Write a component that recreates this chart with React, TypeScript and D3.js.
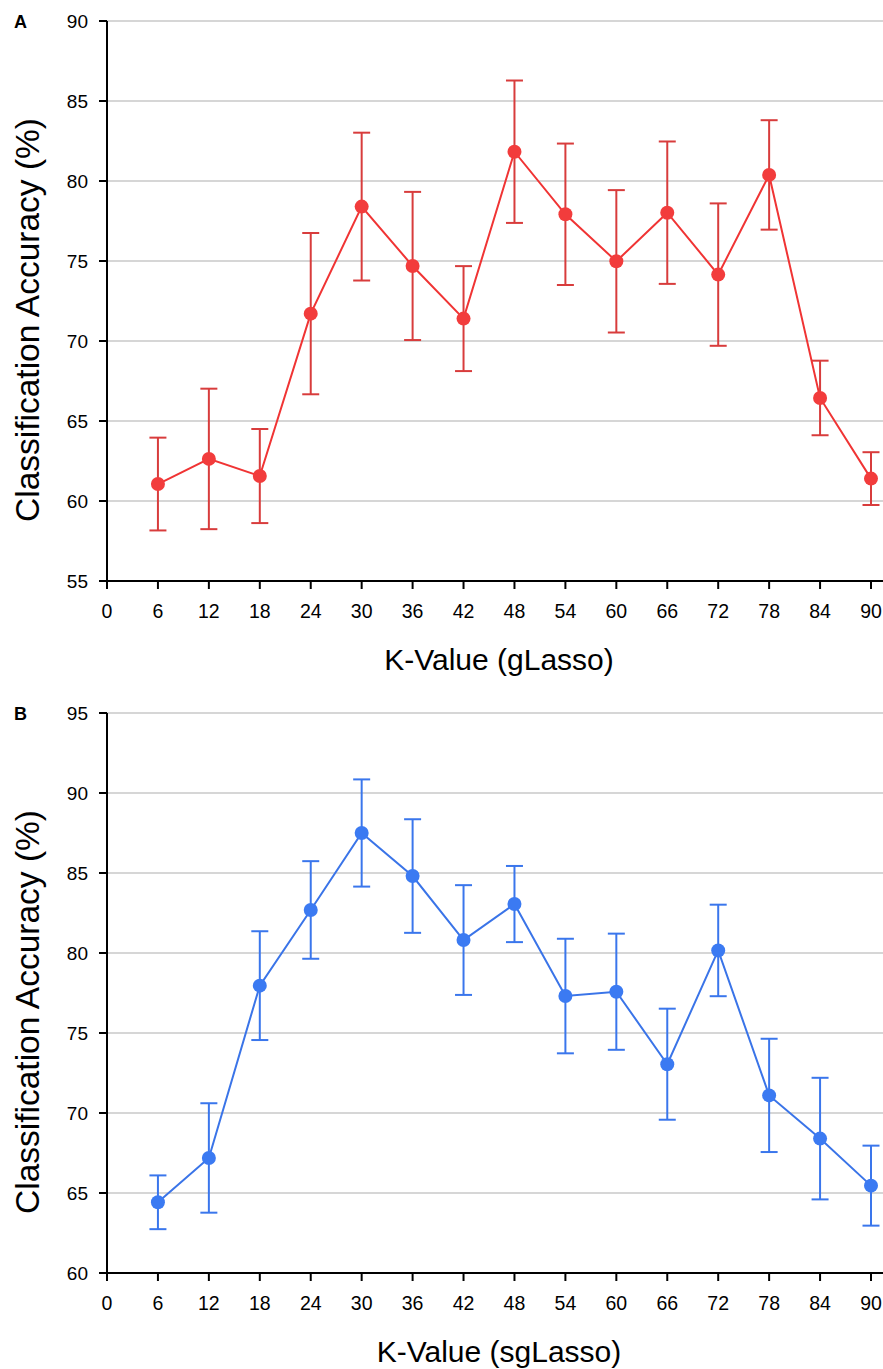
import React from "react";
import * as d3 from "d3";

// K values shared by both panels
const kValues = [6, 12, 18, 24, 30, 36, 42, 48, 54, 60, 66, 72, 78, 84, 90];
const xTicks = [0, 6, 12, 18, 24, 30, 36, 42, 48, 54, 60, 66, 72, 78, 84, 90];

// Panel A: gLasso
const gLassoMean = [61.06, 62.63, 61.56, 71.71, 78.4, 74.69, 71.4, 81.83, 77.92, 74.98, 78.02, 74.15, 80.38, 66.44, 61.4];
const gLassoErr = [2.9, 4.39, 2.94, 5.04, 4.62, 4.63, 3.28, 4.45, 4.42, 4.45, 4.45, 4.45, 3.42, 2.33, 1.65];
const gLassoYTicks = [55, 60, 65, 70, 75, 80, 85, 90];

// Panel B: sgLasso
const sgLassoMean = [64.42, 67.19, 77.96, 82.69, 87.5, 84.81, 80.81, 83.06, 77.31, 77.58, 73.05, 80.16, 71.1, 68.4, 65.46];
const sgLassoErr = [1.68, 3.42, 3.4, 3.05, 3.35, 3.55, 3.43, 2.38, 3.58, 3.63, 3.47, 2.86, 3.54, 3.8, 2.5];
const sgLassoYTicks = [60, 65, 70, 75, 80, 85, 90, 95];

const FONT = "Liberation Sans, Arial, Helvetica, sans-serif";

type PanelProps = {
  letter: string;
  xTitle: string;
  mean: number[];
  err: number[];
  yTicks: number[];
  top: number;
  bottom: number;
  lineColor: string;
  dotColor: string;
  errColor: string;
};

function Panel({ letter, xTitle, mean, err, yTicks, top, bottom, lineColor, dotColor, errColor }: PanelProps) {
  const left = 107;
  const right = 871;
  const gridRight = 883;
  const x = d3.scaleLinear().domain([0, 90]).range([left, right]);
  const y = d3.scaleLinear().domain([yTicks[0], yTicks[yTicks.length - 1]]).range([bottom, top]);
  const line = d3
    .line<number>()
    .x((_, i) => x(kValues[i]))
    .y((d) => y(d));
  const cap = 8.5;

  return (
    <g>
      <text x={14} y={top + 6.5} fontFamily={FONT} fontWeight="bold" fontSize={18} fill="#000">
        {letter}
      </text>
      {/* horizontal gridlines */}
      {yTicks.slice(1).map((t) => (
        <line key={"g" + t} x1={left} x2={gridRight} y1={y(t)} y2={y(t)} stroke="#c8c8c8" strokeWidth={1.5} />
      ))}
      {/* y axis */}
      <line x1={left} x2={left} y1={top} y2={bottom} stroke="#000" strokeWidth={2} />
      {yTicks.map((t) => (
        <g key={"y" + t}>
          <line x1={left - 8} x2={left} y1={y(t)} y2={y(t)} stroke="#000" strokeWidth={2} />
          <text
            x={left - 19}
            y={y(t)}
            textAnchor="end"
            dominantBaseline="central"
            fontFamily={FONT}
            fontSize={19}
            fill="#000"
          >
            {t}
          </text>
        </g>
      ))}
      {/* x axis */}
      <line x1={left - 8} x2={gridRight} y1={bottom} y2={bottom} stroke="#000" strokeWidth={2} />
      {xTicks.map((t) => (
        <g key={"x" + t}>
          <line x1={x(t)} x2={x(t)} y1={bottom} y2={bottom + 8} stroke="#000" strokeWidth={2} />
          <text x={x(t)} y={bottom + 37} textAnchor="middle" fontFamily={FONT} fontSize={19.5} fill="#000">
            {t}
          </text>
        </g>
      ))}
      {/* axis titles */}
      <text
        x={499}
        y={bottom + 89}
        textAnchor="middle"
        fontFamily={FONT}
        fontSize={30}
        fill="#000"
      >
        {xTitle}
      </text>
      <text
        transform={`translate(39, ${(top + bottom) / 2 + 19}) rotate(-90)`}
        textAnchor="middle"
        fontFamily={FONT}
        fontSize={33.5}
        fill="#000"
      >
        Classification Accuracy (%)
      </text>
      {/* error bars */}
      {mean.map((m, i) => {
        const cx = x(kValues[i]);
        const y1 = y(m + err[i]);
        const y2 = y(m - err[i]);
        return (
          <g key={"e" + i} stroke={errColor} strokeWidth={2}>
            <line x1={cx} x2={cx} y1={y1} y2={y2} />
            <line x1={cx - cap} x2={cx + cap} y1={y1} y2={y1} />
            <line x1={cx - cap} x2={cx + cap} y1={y2} y2={y2} />
          </g>
        );
      })}
      {/* mean line */}
      <path d={line(mean) || ""} fill="none" stroke={lineColor} strokeWidth={2} />
      {/* markers */}
      {mean.map((m, i) => (
        <circle key={"c" + i} cx={x(kValues[i])} cy={y(m)} r={7} fill={dotColor} />
      ))}
    </g>
  );
}

export default function App() {
  return (
    <svg
      width={883}
      height={1369}
      style={{ position: "absolute", left: 0, top: 0, display: "block", background: "#fff" }}
    >
      <rect width={883} height={1369} fill="#fff" />
      <Panel
        letter="A"
        xTitle="K-Value (gLasso)"
        mean={gLassoMean}
        err={gLassoErr}
        yTicks={gLassoYTicks}
        top={21}
        bottom={581}
        lineColor="#f03434"
        dotColor="#f23c3c"
        errColor="#d83c3c"
      />
      <Panel
        letter="B"
        xTitle="K-Value (sgLasso)"
        mean={sgLassoMean}
        err={sgLassoErr}
        yTicks={sgLassoYTicks}
        top={713}
        bottom={1273}
        lineColor="#3a74e8"
        dotColor="#3b7af2"
        errColor="#3a76ec"
      />
    </svg>
  );
}
